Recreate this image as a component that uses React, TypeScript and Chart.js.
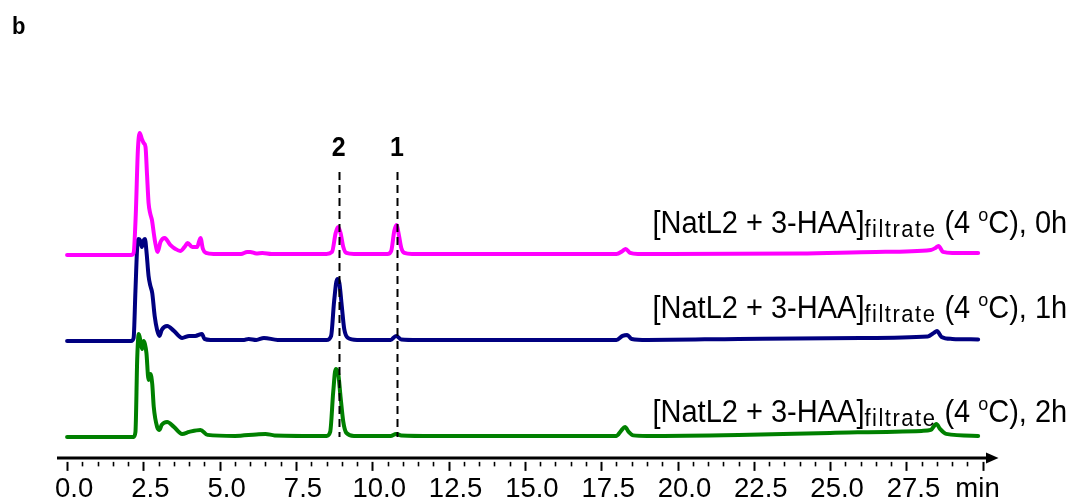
import React, { useEffect, useRef } from 'react';
import { Chart, registerables } from 'chart.js';

Chart.register(...registerables);

// ---- data ----
const SERIES_LABELS = ['0h', '1h', '2h'];
const SERIES_COLORS = ['#ff00ff', '#000080', '#008000'];
const STACK_OFFSETS = [203, 117, 21];

const T_0H = [0, 2.1, 2.18, 2.25, 2.32, 2.38, 2.45, 2.51, 2.57, 2.62, 2.67, 2.72, 2.78, 2.84, 2.89, 2.97, 3.06, 3.2, 3.38, 3.55, 3.71, 3.85, 3.95, 4.1, 4.26, 4.37, 4.45, 4.55, 4.8, 5.7, 5.9, 6.0, 6.2, 6.4, 6.7, 8.5, 8.68, 8.8, 8.88, 8.96, 9.05, 9.15, 9.4, 10.5, 10.62, 10.72, 10.79, 10.87, 10.95, 11.05, 11.3, 18.0, 18.2, 18.3, 18.45, 18.7, 24, 26.5, 28.3, 28.45, 28.55, 28.7, 29.0, 29.85];
const I_0H = [0, 0, 2, 40, 105, 122, 116, 112, 108, 80, 52, 42, 35, 22, 12, 3, 13, 17, 10, 6, 4, 8, 12, 8, 8, 17, 6, 2, 1, 1, 3, 3, 1.5, 2, 1, 1, 3, 22, 28, 22, 8, 2, 1, 1, 4, 24, 30, 20, 7, 2, 1, 1, 4, 6, 2, 1, 1.5, 3, 5, 7, 9, 3, 2, 2];

const T_1H = [0, 2.1, 2.18, 2.24, 2.3, 2.35, 2.4, 2.45, 2.5, 2.55, 2.6, 2.67, 2.73, 2.79, 2.87, 2.95, 3.03, 3.1, 3.28, 3.5, 3.77, 4.0, 4.2, 4.42, 4.5, 4.7, 5.8, 5.95, 6.2, 6.45, 6.9, 8.5, 8.65, 8.75, 8.85, 8.92, 9.0, 9.08, 9.2, 9.5, 10.6, 10.78, 10.95, 11.5, 18.0, 18.2, 18.35, 18.5, 19, 22, 26, 28.2, 28.4, 28.5, 28.65, 29, 29.85];
const I_1H = [0, 0, 3, 50, 95, 102, 100, 94, 100, 102, 90, 65, 55, 48, 25, 11, 5, 11, 15, 10, 3, 5, 5, 7, 2, 1, 1, 2, 1, 3, 1, 1, 5, 40, 62, 58, 35, 12, 3, 1, 1, 5, 1.5, 1, 1, 5, 6, 2, 1, 2, 3, 4.5, 8, 10, 4, 2, 1.5];

const T_2H = [0, 2.18, 2.24, 2.3, 2.35, 2.41, 2.46, 2.51, 2.55, 2.6, 2.67, 2.73, 2.79, 2.84, 2.95, 3.03, 3.1, 3.28, 3.5, 3.77, 4.0, 4.37, 4.6, 5.5, 6.2, 6.5, 6.8, 8.5, 8.62, 8.72, 8.8, 8.88, 8.96, 9.05, 9.15, 9.4, 10.6, 10.78, 10.95, 12, 18.0, 18.15, 18.28, 18.4, 18.55, 19, 22, 25, 28.0, 28.3, 28.48, 28.6, 28.8, 29.85];
const I_2H = [0, 0, 5, 80, 103, 95, 88, 96, 93, 84, 57, 63, 53, 30, 10, 7, 12, 15, 10, 3, 5, 7, 2, 1, 2.5, 3, 1.5, 1, 5, 45, 68, 64, 40, 15, 4, 1, 1, 3, 1.5, 1, 1, 6, 10, 5, 1.5, 1, 2, 4, 6, 7, 13, 8, 3, 1];

const SERIES_TIMES = [T_0H, T_1H, T_2H];
const SERIES_VALUES = [I_0H, I_1H, I_2H];

// major tick marks (minutes), numeric labels, and the unit label
const X_MAJOR_TICKS = [0, 2.5, 5, 7.5, 10, 12.5, 15, 17.5, 20, 22.5, 25, 27.5, 30];
const X_NUMBER_LABELS = [0, 2.5, 5, 7.5, 10, 12.5, 15, 17.5, 20, 22.5, 25, 27.5];
const X_UNIT = 'min';
const X_UNIT_AT = 29.6;
const MINOR_STEP = 0.5;

const PEAK_TIMES = [8.9, 10.81];
const PEAK_NAMES = ['2', '1'];
const MARKER_RANGE = [21, 286];
const PEAK_NAME_Y = 302;

const LABEL_X = 19.18;
const LABEL_Y = [225, 140, 36];
const PANEL_LETTER = 'b';

const FONT = '"Liberation Sans", Arial, Helvetica, sans-serif';
const SY = 1.07;

type Part = { text: string; size: number; dy?: number; bold?: boolean; ls?: number };

function drawRich(ctx: CanvasRenderingContext2D, parts: Part[], x: number, y: number, align = 'left') {
  ctx.save();
  ctx.translate(x, y);
  ctx.scale(1, SY);
  ctx.textBaseline = 'alphabetic';
  ctx.textAlign = 'left';
  ctx.fillStyle = '#000';
  let total = 0;
  const widths: number[] = [];
  for (const p of parts) {
    ctx.font = `${p.bold ? 'bold ' : ''}${p.size}px ${FONT}`;
    (ctx as any).letterSpacing = `${p.ls || 0}px`;
    const w = ctx.measureText(p.text).width;
    widths.push(w);
    total += w;
  }
  let cx = align === 'center' ? -total / 2 : 0;
  parts.forEach((p, i) => {
    ctx.font = `${p.bold ? 'bold ' : ''}${p.size}px ${FONT}`;
    (ctx as any).letterSpacing = `${p.ls || 0}px`;
    ctx.fillText(p.text, cx, p.dy || 0);
    cx += widths[i];
  });
  (ctx as any).letterSpacing = '0px';
  ctx.restore();
}

const overlay = {
  id: 'overlay',
  afterDatasetsDraw(chart: any) {
    const ctx: CanvasRenderingContext2D = chart.ctx;
    const xs = chart.scales.x;
    const ys = chart.scales.y;
    const area = chart.chartArea;
    ctx.save();

    // dashed markers
    ctx.strokeStyle = '#000';
    ctx.lineWidth = 2;
    ctx.setLineDash([8, 5]);
    PEAK_TIMES.forEach((t) => {
      const px = Math.round(xs.getPixelForValue(t)) + 0.5;
      ctx.beginPath();
      ctx.moveTo(px, ys.getPixelForValue(MARKER_RANGE[1]));
      ctx.lineTo(px, ys.getPixelForValue(MARKER_RANGE[0]));
      ctx.stroke();
    });
    ctx.setLineDash([]);
    PEAK_TIMES.forEach((t, i) => {
      drawRich(ctx, [{ text: PEAK_NAMES[i], size: 25, bold: true }], xs.getPixelForValue(t), ys.getPixelForValue(PEAK_NAME_Y), 'center');
    });

    // series labels
    SERIES_LABELS.forEach((lab, i) => {
      drawRich(
        ctx,
        [
          { text: '[NatL2 + 3-HAA]', size: 29 },
          { text: 'filtrate', size: 22, dy: 4, ls: 1.5 },
          { text: ' (4 ', size: 29 },
          { text: 'o', size: 18, dy: -11 },
          { text: 'C), ' + lab, size: 29 },
        ],
        xs.getPixelForValue(LABEL_X),
        ys.getPixelForValue(LABEL_Y[i])
      );
    });

    // x axis line with arrow
    const yAxis = area.bottom;
    const tip = xs.getPixelForValue(xs.max);
    ctx.strokeStyle = '#000';
    ctx.fillStyle = '#000';
    ctx.lineWidth = 3;
    ctx.beginPath();
    ctx.moveTo(area.left, yAxis);
    ctx.lineTo(tip - 8, yAxis);
    ctx.stroke();
    ctx.beginPath();
    ctx.moveTo(tip - 12, yAxis - 5.5);
    ctx.lineTo(tip + 0.5, yAxis);
    ctx.lineTo(tip - 12, yAxis + 5.5);
    ctx.closePath();
    ctx.fill();

    // ticks
    const first = X_MAJOR_TICKS[0];
    const last = X_MAJOR_TICKS[X_MAJOR_TICKS.length - 1];
    const nMinor = Math.round((last - first) / MINOR_STEP);
    for (let k = 0; k <= nMinor; k++) {
      const v = first + k * MINOR_STEP;
      const isMajor = X_MAJOR_TICKS.some((t) => Math.abs(t - v) < 1e-6);
      const px = Math.round(xs.getPixelForValue(v)) + 0.5;
      ctx.lineWidth = isMajor ? 2 : 1.6;
      ctx.beginPath();
      ctx.moveTo(px, yAxis + 4);
      ctx.lineTo(px, yAxis + (isMajor ? 13 : 8.5));
      ctx.stroke();
    }

    // panel letter
    drawRich(ctx, [{ text: PANEL_LETTER, size: 22, bold: true }], 12, 34);
    ctx.restore();
  },
};

export default function App() {
  const ref = useRef<HTMLCanvasElement>(null);
  useEffect(() => {
    const datasets = SERIES_LABELS.map((lab, i) => ({
      label: lab,
      data: SERIES_TIMES[i].map((t, j) => ({ x: t, y: SERIES_VALUES[i][j] + STACK_OFFSETS[i] })),
      borderColor: SERIES_COLORS[i],
      backgroundColor: SERIES_COLORS[i],
      borderWidth: 4,
      pointRadius: 0,
      cubicInterpolationMode: 'monotone' as const,
      borderJoinStyle: 'round' as const,
      borderCapStyle: 'round' as const,
      fill: false,
    }));
    const chart = new Chart(ref.current!, {
      type: 'line',
      data: { datasets },
      options: {
        animation: false,
        responsive: true,
        maintainAspectRatio: false,
        devicePixelRatio: 1,
        layout: { padding: { left: 57, right: 79, top: 100, bottom: 0 } },
        plugins: { legend: { display: false }, tooltip: { enabled: false } },
        scales: {
          x: {
            type: 'linear',
            min: -0.33,
            max: 30.5,
            position: 'bottom',
            afterBuildTicks: (axis: any) => {
              axis.ticks = [...X_NUMBER_LABELS, X_UNIT_AT].map((v) => ({ value: v }));
            },
            ticks: {
              autoSkip: false,
              maxRotation: 0,
              minRotation: 0,
              padding: 0,
              labelOffset: 7,
              color: '#000',
              font: { family: FONT, size: 27.5, lineHeight: 0.95 },
              callback: (v: any) => (Math.abs(Number(v) - X_UNIT_AT) < 1e-6 ? X_UNIT : Number(v).toFixed(1)),
            },
            grid: { display: true, drawOnChartArea: false, drawTicks: true, tickLength: 18, tickColor: 'rgba(0,0,0,0)', color: 'rgba(0,0,0,0)' },
            border: { display: false },
          },
          y: {
            type: 'linear',
            display: false,
            min: 0,
            max: 358,
          },
        },
      },
      plugins: [overlay],
    });
    return () => chart.destroy();
  }, []);
  return (
    <div style={{ position: 'fixed', left: 0, top: 0, width: 1077, height: 502, background: '#fff' }}>
      <canvas ref={ref} />
    </div>
  );
}
